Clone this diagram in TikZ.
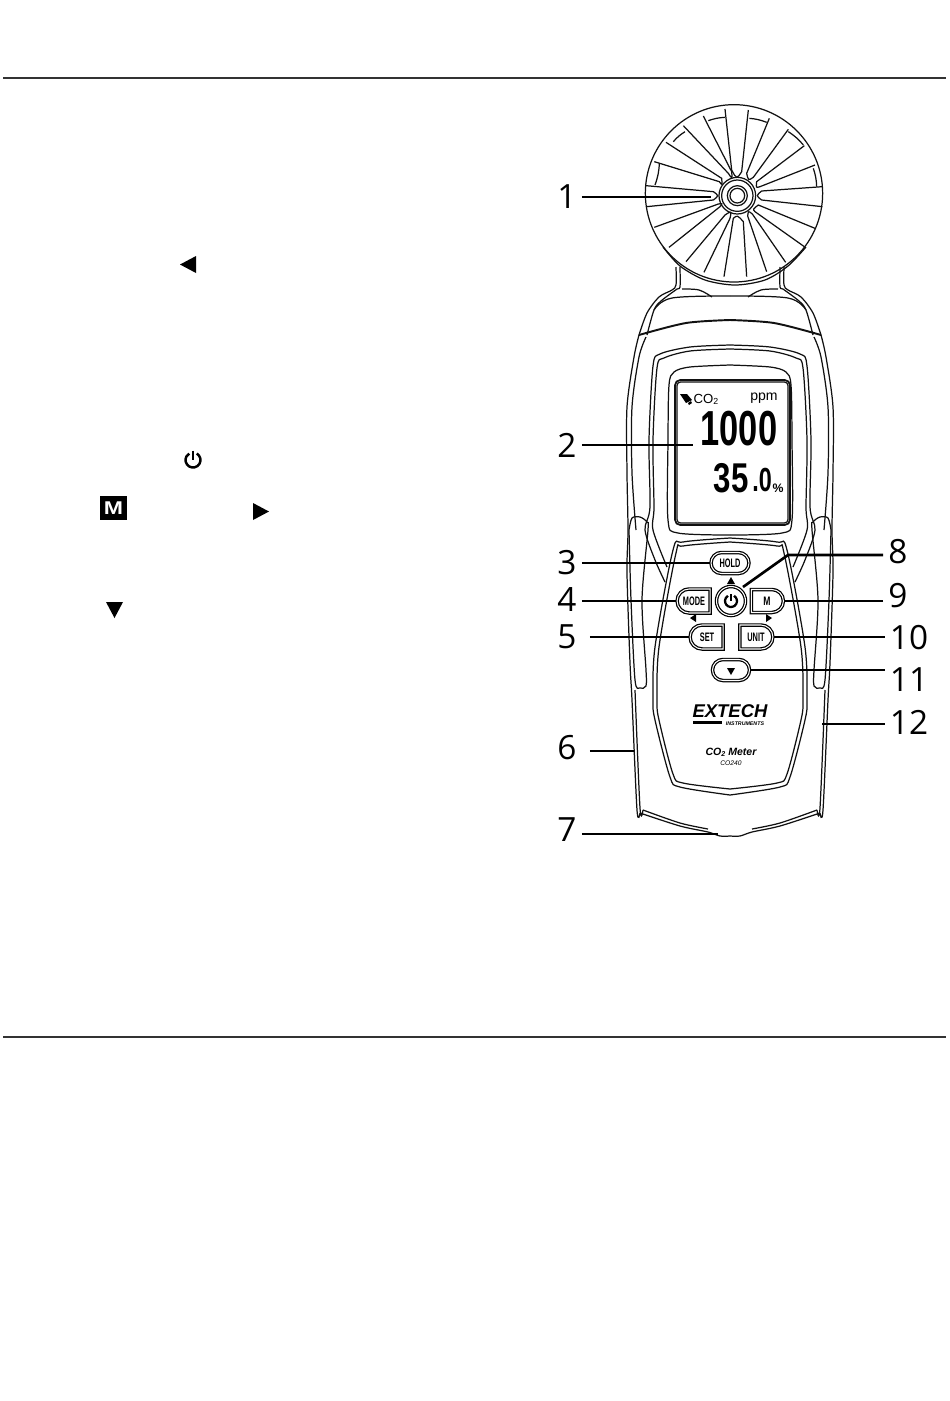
\documentclass[tikz,border=0pt]{standalone}
\usepackage{fontspec}
\setmainfont{Liberation Sans}
\newfontfamily\numfont{Open Sans}
\usetikzlibrary{positioning,shapes.misc,shapes.geometric,calc}
\definecolor{ruleblack}{HTML}{333333}
\definecolor{inkblack}{HTML}{111111}
\newcommand{\fsize}[1]{\fontsize{#1}{#1}\selectfont}
\newcommand{\narrow}[2]{\scalebox{#1}[1]{#2}}
\tikzset{
  body/.style={draw=inkblack, line width=0.7pt},
  leader/.style={draw=black, line width=1.5pt},
  callout/.style={font=\numfont\fsize{19}, text=black, inner xsep=0.1cm, inner ysep=0pt},
  keybtn/.style={draw=black, fill=white, line width=0.7pt, double=white, double distance=0.6pt,
    rounded rectangle, inner sep=0pt, minimum height=0.42cm, font=\bfseries\fsize{7}},
  lcdtext/.style={inner sep=0pt, text=black},
  glyph/.style={fill=black},
}
\begin{document}
\begin{tikzpicture}[x=0.02cm, y=-0.02cm]
  \useasboundingbox (0,0) rectangle (950,1401);
  % Page rules
  \draw[ruleblack, line width=0.6pt] (3,78) -- (946,78);
  \draw[ruleblack, line width=0.6pt] (3,1037) -- (946,1037);

  % Symbols in the left column
  \fill[glyph] (180,264.5) -- (196,256) -- (196,273) -- cycle;
  \draw[black, line width=1.4pt] (193,460) ++(-60:7.5) arc (-60:240:7.5);
  \draw[black, line width=1.4pt] (193,450.5) -- (193,460);
  \node[fill=black, text=white, inner sep=0pt, minimum width=0.55cm, minimum height=0.48cm,
    font=\bfseries\fsize{10.5}] (keym) at (113.5,508) {\narrow{1.25}{M}};
  \fill[glyph] (269,511.5) -- (253,503) -- (253,520) -- cycle;
  \fill[glyph] (114.5,618) -- (106,602) -- (123,602) -- cycle;

  % Fan head, in 3x crop units
  \begin{scope}[shift={(620,90)}, x=0.006667cm, y=-0.006667cm]
    \draw[body] (342,310) circle (266);
    \foreach \r in {55,47,30,22}
      \draw[body] (352,317) circle (\r);
    % Blade: rim, inner end, tip, inner end, rim
    \foreach \ax/\ay/\bx/\by/\cx/\cy/\dx/\dy/\ex/\ey in {
      315/57/335/240/350/268/365/245/385/60,
      448/85/380/250/385/272/400/262/505/118,
      553/167/410/275/408/294/420/290/585/225,
      607/290/425/303/408/317/425/330/607/350,
      585/415/415/345/398/358/405/365/553/470,
      497/517/397/372/385/362/383/378/440/545,
      380/560/370/395/352/375/340/385/312/560,
      252/547/330/385/335/362/315/375/198/515,
      147/472/300/350/308/340/295/342/103/412,
      80/350/280/330/297/317/280/305/78/287,
      103/215/298/275/307/287/305/265/138/157,
      190/107/325/250/337/268/335/245/250/78
    }{
      \draw[body] (\ax,\ay) -- (\bx,\by) .. controls (\cx,\cy) .. (\dx,\dy) -- (\ex,\ey);
    }
    % Rim arcs
    \foreach \ax/\ay/\ex/\ey in {
      265/92/315/82, 388/85/440/97, 505/125/550/165, 580/235/590/290,
      118/222/105/285, 160/155/195/125
    }{
      \draw[body] (\ax,\ay) to[bend left=8] (\ex,\ey);
    }
  \end{scope}
  \draw[body] plot[smooth] coordinates {(663,247) (680,266) (705,280) (735,285) (765,280) (788,266) (806,247)};

  % Housing, one side then its mirror image
  \foreach \s in {1,-1}{
    \begin{scope}[shift={(730,0)}, xscale=\s]
      % Neck
      \draw[body] plot[smooth, tension=0.5] coordinates {(-54,267) (-54,285) (-58,290) (-71,297) (-83,313) (-91,335)};
      \draw[body] plot[smooth, tension=0.5] coordinates {(-50,267) (-50,287) (-53,289) (-69,301) (-76,310) (-83,335)};
      \draw[body] plot[smooth, tension=0.6] coordinates {(-48,289) (-31,290) (-18,297)};
      \draw[body] plot[smooth, tension=0.6] coordinates {(-76,310) (-58,298) (0,296)};
      \draw[draw=inkblack, line width=1.1pt] plot[smooth] coordinates {(-91,335) (-44,323) (0,320)};
      % Outer shell
      \draw[body] plot[smooth, tension=0.5] coordinates {(-91,335) (-96,357) (-103,407) (-103,473) (-102,530) (-103,573) (-100,663) (-98,700) (-93,810) (-90,813)};
      \draw[body] plot[smooth, tension=0.5] coordinates {(-84,337) (-91,357) (-98,407) (-98,473) (-94,530)};
      \draw[body] plot[smooth, tension=0.5] coordinates {(-95,690) (-90,808) (-87,810)};
      \draw[body] plot[smooth, tension=0.5] coordinates {(-90,813) (-50,826) (-22,832) (-10,836) (0,836)};
      \draw[body] plot[smooth, tension=0.5] coordinates {(-87,810) (-50,823) (-22,829)};
      % Side grip
      \draw[body] plot[smooth, tension=0.5] coordinates {(-101,530) (-98,518) (-90,517) (-83,522) (-82,530) (-88,600) (-84,670) (-84,686) (-90,688) (-95,680) (-99,600) (-101,530)};
      % Front panel
      \draw[body] plot[smooth, tension=0.5] coordinates {(0,345) (-40,347) (-70,354) (-77,366) (-81,440) (-80,507) (-85,530) (-75,560) (-65,582)};
      \draw[body] plot[smooth, tension=0.5] coordinates {(0,349) (-40,351) (-66,358) (-73,368) (-77,440) (-76,507) (-77,530) (-63,567)};
      % Display bezel
      \draw[body] plot[smooth, tension=0.5] coordinates {(0,365) (-40,367) (-56,372) (-61,385) (-62,440) (-62,520) (-52,533) (0,535)};
      % Keypad panel
      \draw[body] plot[smooth, tension=0.5] coordinates {(0,538) (-47,542) (-57,550) (-75,647) (-77,700) (-75,720) (-60,777) (-50,787) (0,795)};
      \draw[body] plot[smooth, tension=0.5] coordinates {(0,542) (-47,546) (-54,553) (-71,647) (-73,700) (-71,720) (-57,774) (-47,783) (0,789)};
    \end{scope}
  }

  % Screen
  \draw[body, line width=1pt, rounded corners=3pt] (675,380) rectangle (790,525);
  \draw[body, rounded corners=2pt] (677,382) rectangle (788,523);
  \fill[black] (680,394) -- (687,394) -- (692,400) -- (686,403) -- cycle;
  \fill[black] (688,403) -- (691,401) -- (692,403) -- (689,405) -- cycle;
  \node[lcdtext, font=\fsize{7.5}] (lcdgas) at (706,399) {CO\raisebox{-0.5pt}{\fsize{5}2}};
  \node[lcdtext, font=\fsize{8}] (lcdunit) at (764,398) {ppm};
  \node[lcdtext, font=\bfseries\fsize{28}] (lcdco) at (739,429) {\narrow{0.7}{1000}};
  \node[lcdtext, font=\bfseries\fsize{23.7}] (lcdrh) at (731,478) {\narrow{0.75}{35}};
  \node[lcdtext, font=\bfseries\fsize{19}] (lcddec) at (762,480) {\narrow{0.7}{.0}};
  \node[lcdtext, font=\bfseries\fsize{7}] (lcdpct) at (778,488) {\%};

  % Keys
  \node[keybtn, minimum width=0.76cm] (btnhold) at (730,563) {\narrow{0.6}{HOLD}};
  \node[keybtn, rounded rectangle east arc=none, minimum width=0.66cm, minimum height=0.48cm] (btnmode) at (694,601) {\narrow{0.6}{MODE}};
  \node[keybtn, circle, minimum size=0.58cm] (btnpower) at (731,601) {};
  \node[keybtn, rounded rectangle west arc=none, minimum width=0.64cm, minimum height=0.46cm] (btnm) at (767,601) {\narrow{0.7}{M}};
  \node[keybtn, rounded rectangle east arc=none, minimum width=0.66cm, minimum height=0.48cm] (btnset) at (707,637) {\narrow{0.6}{SET}};
  \node[keybtn, rounded rectangle west arc=none, minimum width=0.66cm, minimum height=0.48cm] (btnunit) at (756,637) {\narrow{0.6}{UNIT}};
  \node[keybtn, minimum width=0.74cm] (btndown) at (731,670) {};
  \draw[black, line width=1.3pt] (731,601) ++(-60:6) arc (-60:240:6);
  \draw[black, line width=1.3pt] (731,594) -- (731,601);
  \fill[glyph] (731,577) -- (735,584) -- (727,584) -- cycle;
  \fill[glyph] (690,618) -- (696,614) -- (696,622) -- cycle;
  \fill[glyph] (772,618) -- (766,614) -- (766,622) -- cycle;
  \fill[glyph] (731,675) -- (727,668) -- (735,668) -- cycle;

  % Maker and model
  \node[inner sep=0pt, font=\bfseries\itshape\fsize{10.5}] (logo) at (730,711.5) {EXTECH};
  \node[inner sep=0pt, font=\bfseries\itshape\fsize{3}] (logosub) at (745,724) {INSTRUMENTS};
  \fill[black] (693,721) rectangle (722,723.5);
  \node[inner sep=0pt, font=\bfseries\itshape\fsize{6}] (model) at (731,752) {CO\raisebox{-0.6pt}{\fsize{4}2} Meter};
  \node[inner sep=0pt, font=\itshape\fsize{3.8}] (modelno) at (731,763) {CO240};

  % Free ends of the callouts
  \coordinate (t1) at (711,197);
  \coordinate (t2) at (693,445);
  \coordinate (t6) at (634,751);
  \coordinate (t7) at (718,834);
  \coordinate (t8) at (743,587);
  \coordinate (t12) at (822,724);
  \coordinate (k8) at (788,555);

  % Left callouts
  \foreach \n/\x/\y/\gap/\tgt in {
    1/567/197/0/t1, 2/567/445/0/t2, 3/567/563/0/btnhold.west, 4/567/600/0/btnmode.west,
    5/567/637/8/btnset.west, 6/567/748/8/t6, 7/567/830/0/t7}{
    \node[callout] (n\n) at (\x,\y) {\n};
    \draw[leader] ([xshift=\gap*0.02cm]n\n.east |- \tgt) -- (\tgt);
  }
  % Right callouts
  \foreach \n/\x/\y/\tgt in {
    9/898/596/btnm.east, 10/909/638/btnunit.east, 11/909/680/btndown.east, 12/909/722/t12}{
    \node[callout] (n\n) at (\x,\y) {\n};
    \draw[leader] (n\n.west |- \tgt) -- (\tgt);
  }
  \node[callout] (n8) at (898,552) {8};
  \draw[leader] (n8.west |- k8) -- (k8) -- (t8);
\end{tikzpicture}
\end{document}
